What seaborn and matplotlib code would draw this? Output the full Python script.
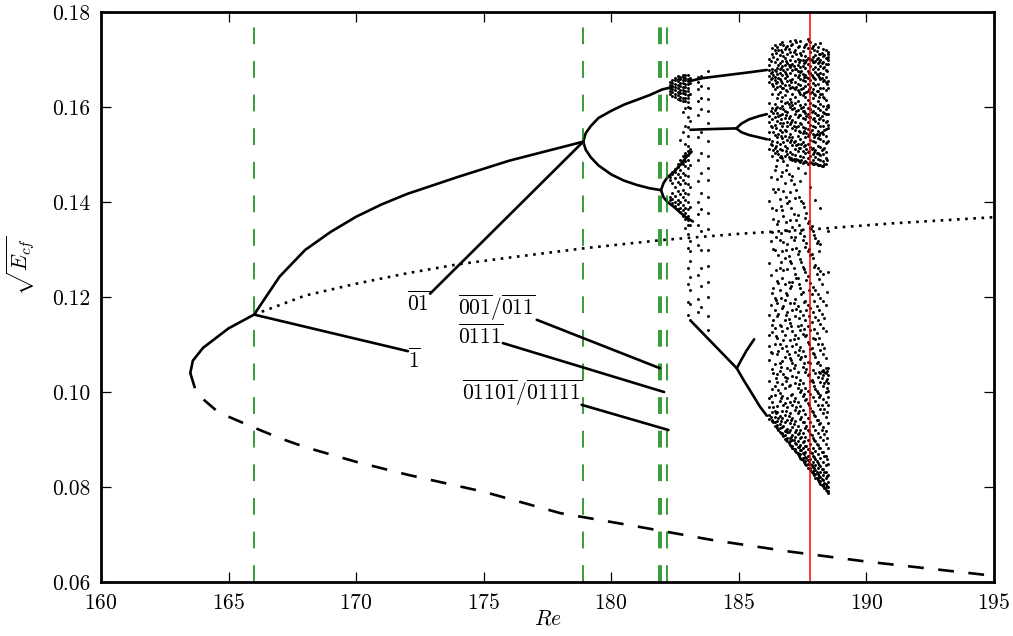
import numpy as np
import pandas as pd
import matplotlib
matplotlib.use("Agg")
import matplotlib.pyplot as plt
import seaborn as sns

# ---- branches ----------------------------------------------------------
# saddle-node: stable upper part and unstable (dashed) lower part
upper_re = [163.5, 163.6, 164.0, 165.0, 166.0]
upper_y = [0.1040, 0.1066, 0.1093, 0.1134, 0.1163]

lower_re = [163.5, 163.7, 164.0, 164.5, 165.0, 166.0, 167.0, 168.0, 170.0,
            172.0, 175.0, 178.0, 181.0, 184.0, 187.0, 190.0, 193.0, 195.0]
lower_y = [0.1040, 0.1005, 0.0985, 0.0962, 0.0948, 0.0925, 0.0903, 0.0884, 0.0853,
           0.0826, 0.0790, 0.0745, 0.0717, 0.0688, 0.0664, 0.0643, 0.0625, 0.0613]

# unstable period-1 orbit after 166 (dotted)
dot_re = [166.0, 168.0, 170.0, 172.0, 174.0, 176.0, 179.0, 182.0, 185.0, 188.0, 191.0, 195.0]
dot_y = [0.1163, 0.1203, 0.1228, 0.1250, 0.1269, 0.1283, 0.1303, 0.1320, 0.1333, 0.1343, 0.1355, 0.1368]

# stable branch 166 -> 179
p1_re = [166.0, 167.0, 168.0, 169.0, 170.0, 171.0, 172.0, 174.0, 176.0, 178.9]
p1_y = [0.1163, 0.1243, 0.1299, 0.1337, 0.1369, 0.1395, 0.1417, 0.1453, 0.1487, 0.1527]

# period doubling at 179
p2_top_re = [178.9, 179.0, 179.2, 179.5, 180.0, 180.5, 181.0, 181.5, 182.0, 182.4]
p2_top_y = [0.1527, 0.1545, 0.1560, 0.1577, 0.1592, 0.1605, 0.1615, 0.1625, 0.1637, 0.1642]
p2_bot_re = [178.9, 179.0, 179.2, 179.5, 180.0, 180.5, 181.0, 181.5, 181.95]
p2_bot_y = [0.1527, 0.1510, 0.1494, 0.1477, 0.1458, 0.1445, 0.1436, 0.1429, 0.1425]

p4_up_re = [181.95, 182.05, 182.2, 182.45, 182.7, 182.95, 183.15]
p4_up_y = [0.1425, 0.1440, 0.1452, 0.1463, 0.1478, 0.1495, 0.1506]
p4_dn_re = [181.95, 182.05, 182.2, 182.45, 182.7, 182.95, 183.2]
p4_dn_y = [0.1425, 0.1410, 0.1400, 0.1390, 0.1378, 0.1367, 0.1359]

# period-3 window
p3_top_re = [183.1, 183.6, 184.2, 184.8, 185.4, 186.1]
p3_top_y = [0.1655, 0.1661, 0.1665, 0.1669, 0.1673, 0.1678]
p3_mid_re = [183.1, 183.6, 184.2, 184.9]
p3_mid_y = [0.1552, 0.1553, 0.1554, 0.1555]
p6_mid_up_re = [184.9, 185.1, 185.4, 185.8, 186.1]
p6_mid_up_y = [0.1555, 0.1565, 0.1574, 0.1581, 0.1585]
p6_mid_dn_re = [184.9, 185.1, 185.4, 185.8, 186.1]
p6_mid_dn_y = [0.1555, 0.1547, 0.1541, 0.1536, 0.1532]
p3_bot_re = [183.15, 184.0, 184.92]
p3_bot_y = [0.1148, 0.1101, 0.1050]
p6_bot_up_re = [184.92, 185.1, 185.3, 185.6]
p6_bot_up_y = [0.1050, 0.1068, 0.1087, 0.1111]
p6_bot_dn_re = [184.92, 185.2, 185.5, 185.83, 186.1]
p6_bot_dn_y = [0.1050, 0.1024, 0.0998, 0.0969, 0.0950]

# chaotic points, Re -> maxima
chaos_first = {
    182.3: [0.1628, 0.1634, 0.1641, 0.1647, 0.1652, 0.1404, 0.1411, 0.1446, 0.1453],
    182.4: [0.1624, 0.1631, 0.1638, 0.1644, 0.1651, 0.1657, 0.1398, 0.1407, 0.1419, 0.1441, 0.1458, 0.1464],
    182.5: [0.1621, 0.1627, 0.1635, 0.1642, 0.1648, 0.1656, 0.1662, 0.1392, 0.1401, 0.1413, 0.1431,
            0.1451, 0.1463, 0.1470],
    182.6: [0.1616, 0.1625, 0.1631, 0.1640, 0.1646, 0.1654, 0.1659, 0.1666, 0.1385, 0.1396, 0.1405,
            0.1424, 0.1442, 0.1458, 0.1473, 0.1479],
    182.7: [0.1614, 0.1621, 0.1630, 0.1636, 0.1645, 0.1650, 0.1658, 0.1664, 0.1379, 0.1387, 0.1401,
            0.1416, 0.1437, 0.1452, 0.1467, 0.1481, 0.1488, 0.1530],
    182.8: [0.1612, 0.1619, 0.1629, 0.1635, 0.1643, 0.1651, 0.1656, 0.1663, 0.1668, 0.1371, 0.1383,
            0.1393, 0.1411, 0.1426, 0.1447, 0.1461, 0.1479, 0.1487, 0.1496, 0.1548, 0.1590],
    182.9: [0.1613, 0.1618, 0.1627, 0.1634, 0.1642, 0.1648, 0.1657, 0.1662, 0.1667, 0.1346, 0.1365,
            0.1377, 0.1388, 0.1405, 0.1420, 0.1440, 0.1456, 0.1475, 0.1487, 0.1498, 0.1504, 0.1523,
            0.1561, 0.1598],
    183.0: [0.1611, 0.1619, 0.1626, 0.1633, 0.1641, 0.1649, 0.1655, 0.1660, 0.1667, 0.1332, 0.1351,
            0.1363, 0.1371, 0.1386, 0.1401, 0.1417, 0.1437, 0.1454, 0.1472, 0.1488, 0.1499, 0.1507,
            0.1517, 0.1538, 0.1557, 0.1579, 0.1601, 0.1304, 0.1262, 0.1228, 0.1190, 0.1163],
    183.1: [0.1662, 0.1650, 0.1627, 0.1598, 0.1571, 0.1512, 0.1478, 0.1431, 0.1390, 0.1352, 0.1318,
            0.1297, 0.1276, 0.1243, 0.1214, 0.1186, 0.1152],
    183.4: [0.1664, 0.1652, 0.1638, 0.1612, 0.1584, 0.1536, 0.1489, 0.1445, 0.1401, 0.1375, 0.1352,
            0.1310, 0.1247, 0.1196, 0.1168],
    183.5: [0.1666, 0.1645, 0.1620, 0.1595, 0.1548, 0.1503, 0.1462, 0.1418, 0.1386, 0.1340, 0.1298,
            0.1262, 0.1223, 0.1180],
    183.8: [0.1676, 0.1641, 0.1617, 0.1592, 0.1566, 0.1529, 0.1497, 0.1472, 0.1446, 0.1410, 0.1376,
            0.1344, 0.1298, 0.1265, 0.1231, 0.1200, 0.1161, 0.1131],
}

chaos_last = {
    186.2: [0.0943, 0.0951, 0.0969, 0.0987, 0.1024, 0.1068, 0.1096, 0.1119, 0.1163, 0.1271, 0.1402,
            0.1511, 0.1533, 0.1548, 0.1569, 0.1582, 0.1609, 0.1652, 0.1666, 0.1677, 0.1688, 0.1702],
    186.3: [0.0938, 0.0942, 0.0958, 0.0979, 0.1007, 0.1049, 0.1083, 0.1127, 0.1142, 0.1208, 0.1336,
            0.1387, 0.1497, 0.1519, 0.1529, 0.1557, 0.1574, 0.1598, 0.1627, 0.1649, 0.1661, 0.1673,
            0.1680, 0.1711, 0.1724],
    186.4: [0.0929, 0.0936, 0.0947, 0.0961, 0.0994, 0.1013, 0.1058, 0.1101, 0.1134, 0.1172, 0.1197,
            0.1298, 0.1421, 0.1468, 0.1503, 0.1514, 0.1541, 0.1563, 0.1579, 0.1594, 0.1606, 0.1638,
            0.1657, 0.1664, 0.1678, 0.1694, 0.1719, 0.1731],
    186.5: [0.0924, 0.0931, 0.0940, 0.0957, 0.0971, 0.1022, 0.1037, 0.1079, 0.1113, 0.1159, 0.1188,
            0.1233, 0.1354, 0.1449, 0.1489, 0.1507, 0.1526, 0.1536, 0.1571, 0.1588, 0.1601, 0.1619,
            0.1643, 0.1653, 0.1669, 0.1683, 0.1701, 0.1727],
    186.6: [0.0916, 0.0924, 0.0933, 0.0949, 0.0982, 0.0998, 0.1044, 0.1061, 0.1102, 0.1141, 0.1215,
            0.1262, 0.1319, 0.1406, 0.1494, 0.1512, 0.1523, 0.1551, 0.1566, 0.1583, 0.1597, 0.1631,
            0.1645, 0.1659, 0.1672, 0.1679, 0.1692, 0.1709, 0.1733],
    186.7: [0.0911, 0.0913, 0.0926, 0.0945, 0.0959, 0.0991, 0.1017, 0.1066, 0.1093, 0.1128, 0.1177,
            0.1241, 0.1297, 0.1383, 0.1463, 0.1492, 0.1509, 0.1534, 0.1547, 0.1559, 0.1586, 0.1603,
            0.1622, 0.1639, 0.1651, 0.1668, 0.1686, 0.1697, 0.1715, 0.1737],
    186.8: [0.0902, 0.0909, 0.0918, 0.0937, 0.0952, 0.0976, 0.1008, 0.1032, 0.1074, 0.1119, 0.1152,
            0.1193, 0.1227, 0.1283, 0.1342, 0.1439, 0.1496, 0.1517, 0.1538, 0.1552, 0.1577, 0.1592,
            0.1608, 0.1625, 0.1647, 0.1662, 0.1674, 0.1689, 0.1704, 0.1722],
    186.9: [0.0897, 0.0903, 0.0915, 0.0922, 0.0941, 0.0968, 0.0987, 0.1029, 0.1051, 0.1087, 0.1134,
            0.1168, 0.1204, 0.1258, 0.1311, 0.1397, 0.1477, 0.1501, 0.1513, 0.1531, 0.1559, 0.1568,
            0.1589, 0.1611, 0.1633, 0.1654, 0.1665, 0.1681, 0.1693, 0.1712, 0.1729],
    187.0: [0.0888, 0.0897, 0.0903, 0.0919, 0.0934, 0.0955, 0.0979, 0.1014, 0.1046, 0.1071, 0.1109,
            0.1146, 0.1187, 0.1219, 0.1276, 0.1363, 0.1421, 0.1491, 0.1506, 0.1527, 0.1543, 0.1564,
            0.1581, 0.1599, 0.1617, 0.1641, 0.1657, 0.1671, 0.1684, 0.1698, 0.1716, 0.1738],
    187.1: [0.0883, 0.0886, 0.0898, 0.0909, 0.0927, 0.0946, 0.0973, 0.0995, 0.1034, 0.1062, 0.1097,
            0.1128, 0.1173, 0.1232, 0.1302, 0.1348, 0.1455, 0.1488, 0.1502, 0.1519, 0.1536, 0.1555,
            0.1573, 0.1596, 0.1604, 0.1628, 0.1643, 0.1660, 0.1677, 0.1691, 0.1707, 0.1733],
    187.2: [0.0875, 0.0881, 0.0892, 0.0906, 0.0915, 0.0939, 0.0962, 0.0988, 0.1019, 0.1057, 0.1084,
            0.1121, 0.1159, 0.1196, 0.1249, 0.1327, 0.1408, 0.1486, 0.1498, 0.1511, 0.1529, 0.1552,
            0.1568, 0.1586, 0.1609, 0.1622, 0.1638, 0.1652, 0.1668, 0.1681, 0.1696, 0.1721, 0.1742],
    187.3: [0.0870, 0.0872, 0.0885, 0.0896, 0.0911, 0.0928, 0.0955, 0.0979, 0.1008, 0.1043, 0.1078,
            0.1114, 0.1138, 0.1182, 0.1239, 0.1290, 0.1373, 0.1472, 0.1489, 0.1508, 0.1522, 0.1539,
            0.1561, 0.1579, 0.1593, 0.1612, 0.1636, 0.1649, 0.1663, 0.1676, 0.1689, 0.1702, 0.1727],
    187.4: [0.0861, 0.0869, 0.0877, 0.0889, 0.0903, 0.0921, 0.0944, 0.0971, 0.1001, 0.1026, 0.1069,
            0.1095, 0.1131, 0.1171, 0.1219, 0.1281, 0.1334, 0.1444, 0.1485, 0.1497, 0.1514, 0.1533,
            0.1548, 0.1566, 0.1583, 0.1604, 0.1627, 0.1646, 0.1659, 0.1673, 0.1685, 0.1699, 0.1713,
            0.1739],
    187.5: [0.0856, 0.0861, 0.0871, 0.0882, 0.0894, 0.0914, 0.0937, 0.0963, 0.0992, 0.1018, 0.1052,
            0.1087, 0.1122, 0.1163, 0.1211, 0.1264, 0.1319, 0.1398, 0.1483, 0.1494, 0.1507, 0.1526,
            0.1546, 0.1558, 0.1577, 0.1591, 0.1601, 0.1626, 0.1639, 0.1657, 0.1670, 0.1687, 0.1700,
            0.1718],
    187.6: [0.0849, 0.0854, 0.0863, 0.0874, 0.0887, 0.0906, 0.0925, 0.0954, 0.0983, 0.1009, 0.1043,
            0.1076, 0.1117, 0.1151, 0.1192, 0.1253, 0.1306, 0.1367, 0.1462, 0.1486, 0.1503, 0.1519,
            0.1537, 0.1555, 0.1574, 0.1588, 0.1606, 0.1621, 0.1644, 0.1654, 0.1668, 0.1683, 0.1695,
            0.1708, 0.1731],
    187.7: [0.0841, 0.0848, 0.0856, 0.0866, 0.0879, 0.0899, 0.0919, 0.0945, 0.0976, 0.1003, 0.1035,
            0.1064, 0.1106, 0.1139, 0.1183, 0.1244, 0.1297, 0.1355, 0.1481, 0.1492, 0.1505, 0.1523,
            0.1539, 0.1553, 0.1569, 0.1585, 0.1597, 0.1615, 0.1633, 0.1648, 0.1661, 0.1676, 0.1690,
            0.1704, 0.1724, 0.1744],
    187.8: [0.0836, 0.0839, 0.0849, 0.0859, 0.0873, 0.0891, 0.0911, 0.0937, 0.0967, 0.0996, 0.1024,
            0.1061, 0.1091, 0.1131, 0.1176, 0.1229, 0.1288, 0.1345, 0.1431, 0.1484, 0.1497, 0.1516,
            0.1531, 0.1547, 0.1563, 0.1578, 0.1595, 0.1608, 0.1629, 0.1642, 0.1656, 0.1672, 0.1687,
            0.1701, 0.1715, 0.1736],
    187.9: [0.0829, 0.0834, 0.0842, 0.0853, 0.0866, 0.0883, 0.0904, 0.0929, 0.0958, 0.0989, 0.1021,
            0.1047, 0.1082, 0.1114, 0.1168, 0.1221, 0.1283, 0.1339, 0.1479, 0.1489, 0.1502, 0.1514,
            0.1529, 0.1544, 0.1561, 0.1574, 0.1591, 0.1605, 0.1619, 0.1637, 0.1651, 0.1664, 0.1679,
            0.1694, 0.1706, 0.1729],
    188.0: [0.0820, 0.0827, 0.0835, 0.0846, 0.0858, 0.0876, 0.0897, 0.0921, 0.0949, 0.0981, 0.1006,
            0.1039, 0.1073, 0.1111, 0.1158, 0.1214, 0.1268, 0.1325, 0.1404, 0.1482, 0.1494, 0.1509,
            0.1527, 0.1541, 0.1557, 0.1571, 0.1587, 0.1602, 0.1625, 0.1646, 0.1660, 0.1674, 0.1685,
            0.1697, 0.1709, 0.1732],
    188.1: [0.0815, 0.0818, 0.0828, 0.0839, 0.0851, 0.0869, 0.0889, 0.0913, 0.0942, 0.0972, 0.0998,
            0.1031, 0.1064, 0.1102, 0.1151, 0.1206, 0.1261, 0.1317, 0.1477, 0.1491, 0.1504, 0.1518,
            0.1535, 0.1549, 0.1566, 0.1583, 0.1598, 0.1612, 0.1633, 0.1649, 0.1667, 0.1681, 0.1693,
            0.1704, 0.1727],
    188.2: [0.0807, 0.0813, 0.0821, 0.0832, 0.0845, 0.0861, 0.0882, 0.0906, 0.0934, 0.0964, 0.0993,
            0.1022, 0.1041, 0.1056, 0.1089, 0.1143, 0.1198, 0.1255, 0.1311, 0.1387, 0.1478, 0.1488,
            0.1499, 0.1515, 0.1532, 0.1546, 0.1561, 0.1577, 0.1593, 0.1607, 0.1628, 0.1641, 0.1658,
            0.1672, 0.1686, 0.1698, 0.1711, 0.1734],
    188.3: [0.0802, 0.0805, 0.0814, 0.0825, 0.0838, 0.0853, 0.0874, 0.0898, 0.0926, 0.0955, 0.0986,
            0.1012, 0.1036, 0.1047, 0.1079, 0.1134, 0.1192, 0.1248, 0.1476, 0.1486, 0.1501, 0.1512,
            0.1529, 0.1543, 0.1559, 0.1572, 0.1589, 0.1603, 0.1621, 0.1639, 0.1655, 0.1669, 0.1683,
            0.1695, 0.1708, 0.1723],
    188.4: [0.0793, 0.0800, 0.0807, 0.0818, 0.0831, 0.0846, 0.0866, 0.0890, 0.0918, 0.0947, 0.0978,
            0.0999, 0.1023, 0.1039, 0.1051, 0.1072, 0.1128, 0.1184, 0.1481, 0.1493, 0.1506, 0.1524,
            0.1538, 0.1554, 0.1568, 0.1585, 0.1596, 0.1615, 0.1636, 0.1652, 0.1664, 0.1678, 0.1691,
            0.1703, 0.1719],
    188.5: [0.0787, 0.0792, 0.0799, 0.0810, 0.0826, 0.0848, 0.0882, 0.0935, 0.0972, 0.0990, 0.1003,
            0.1018, 0.1035, 0.1050, 0.1253, 0.1340, 0.1528, 0.1556, 0.1562, 0.1585, 0.1600, 0.1605,
            0.1640, 0.1655, 0.1690, 0.1700, 0.1706, 0.1712, 0.1716],
}

# in-between Re samples of the last chaotic window
chaos_half = {
    186.25: [0.0947, 0.0992, 0.1085, 0.1184, 0.1247, 0.1318, 0.1452, 0.1522, 0.1561, 0.1591, 0.1659,
             0.1671, 0.1696],
    186.35: [0.0936, 0.0968, 0.1041, 0.1152, 0.1219, 0.1301, 0.1365, 0.1428, 0.1509, 0.1547, 0.1587,
             0.1644, 0.1668, 0.1706],
    186.45: [0.0928, 0.0955, 0.1029, 0.1117, 0.1193, 0.1256, 0.1327, 0.1384, 0.1476, 0.1518, 0.1556,
             0.1598, 0.1651, 0.1676, 0.1713],
    186.55: [0.0921, 0.0946, 0.1004, 0.1086, 0.1164, 0.1229, 0.1288, 0.1361, 0.1427, 0.1501, 0.1544,
             0.1582, 0.1627, 0.1662, 0.1688, 0.1721],
    186.65: [0.0914, 0.0939, 0.0987, 0.1052, 0.1138, 0.1197, 0.1273, 0.1334, 0.1392, 0.1455, 0.1497,
             0.1539, 0.1574, 0.1613, 0.1654, 0.1683, 0.1719],
    186.75: [0.0907, 0.0929, 0.0972, 0.1038, 0.1109, 0.1181, 0.1256, 0.1315, 0.1371, 0.1424, 0.1487,
             0.1527, 0.1566, 0.1596, 0.1641, 0.1677, 0.1708, 0.1731],
    186.85: [0.0900, 0.0921, 0.0961, 0.1023, 0.1097, 0.1163, 0.1209, 0.1299, 0.1358, 0.1411, 0.1468,
             0.1508, 0.1549, 0.1583, 0.1635, 0.1669, 0.1697, 0.1727],
    186.95: [0.0893, 0.0915, 0.0949, 0.1012, 0.1081, 0.1154, 0.1231, 0.1286, 0.1339, 0.1402, 0.1459,
             0.1495, 0.1536, 0.1576, 0.1606, 0.1646, 0.1688, 0.1722],
    187.05: [0.0886, 0.0906, 0.0942, 0.0993, 0.1067, 0.1139, 0.1223, 0.1271, 0.1326, 0.1388, 0.1446,
             0.1493, 0.1531, 0.1569, 0.1611, 0.1652, 0.1689, 0.1730],
    187.15: [0.0879, 0.0899, 0.0932, 0.0981, 0.1051, 0.1112, 0.1188, 0.1262, 0.1319, 0.1374, 0.1437,
             0.1491, 0.1526, 0.1561, 0.1598, 0.1639, 0.1686, 0.1716],
    187.25: [0.0873, 0.0891, 0.0921, 0.0968, 0.1032, 0.1101, 0.1174, 0.1241, 0.1304, 0.1363, 0.1426,
             0.1490, 0.1519, 0.1557, 0.1592, 0.1643, 0.1679, 0.1712, 0.1736],
    187.35: [0.0866, 0.0884, 0.0913, 0.0959, 0.1016, 0.1088, 0.1155, 0.1227, 0.1296, 0.1351, 0.1411,
             0.1487, 0.1513, 0.1550, 0.1584, 0.1631, 0.1667, 0.1695, 0.1729],
    187.45: [0.0859, 0.0877, 0.0905, 0.0948, 0.1004, 0.1073, 0.1142, 0.1207, 0.1274, 0.1342, 0.1402,
             0.1489, 0.1522, 0.1564, 0.1597, 0.1638, 0.1675, 0.1709],
    187.55: [0.0852, 0.0869, 0.0896, 0.0937, 0.0996, 0.1061, 0.1133, 0.1189, 0.1258, 0.1329, 0.1389,
             0.1484, 0.1517, 0.1549, 0.1591, 0.1629, 0.1663, 0.1692, 0.1726],
    187.65: [0.0846, 0.0861, 0.0887, 0.0928, 0.0985, 0.1049, 0.1119, 0.1172, 0.1236, 0.1313, 0.1377,
             0.1485, 0.1511, 0.1546, 0.1581, 0.1632, 0.1664, 0.1699, 0.1733],
    187.75: [0.0839, 0.0854, 0.0879, 0.0918, 0.0973, 0.1038, 0.1101, 0.1159, 0.1215, 0.1302, 0.1361,
             0.1482, 0.1508, 0.1544, 0.1579, 0.1637, 0.1671, 0.1702, 0.1739],
    187.85: [0.0832, 0.0846, 0.0871, 0.0909, 0.0961, 0.1026, 0.1093, 0.1148, 0.1207, 0.1291, 0.1349,
             0.1483, 0.1512, 0.1551, 0.1589, 0.1631, 0.1668, 0.1698, 0.1725],
    187.95: [0.0825, 0.0839, 0.0863, 0.0899, 0.0951, 0.1013, 0.1079, 0.1133, 0.1192, 0.1264, 0.1330,
             0.1481, 0.1506, 0.1537, 0.1576, 0.1628, 0.1662, 0.1695, 0.1721],
    188.05: [0.0818, 0.0831, 0.0854, 0.0891, 0.0941, 0.1003, 0.1061, 0.1124, 0.1181, 0.1249, 0.1313,
             0.1479, 0.1503, 0.1543, 0.1584, 0.1633, 0.1669, 0.1701, 0.1718],
    188.15: [0.0811, 0.0823, 0.0846, 0.0883, 0.0932, 0.0989, 0.1043, 0.1113, 0.1172, 0.1237, 0.1297,
             0.1477, 0.1501, 0.1541, 0.1574, 0.1621, 0.1663, 0.1694, 0.1712],
    188.25: [0.0804, 0.0817, 0.0838, 0.0874, 0.0921, 0.0972, 0.1029, 0.1044, 0.1101, 0.1165, 0.1228,
             0.1476, 0.1509, 0.1547, 0.1582, 0.1627, 0.1661, 0.1692, 0.1713],
    188.35: [0.0797, 0.0809, 0.0831, 0.0865, 0.0911, 0.0965, 0.1019, 0.1043, 0.1093, 0.1155, 0.1479,
             0.1514, 0.1552, 0.1587, 0.1619, 0.1657, 0.1684, 0.1709],
    188.45: [0.0791, 0.0803, 0.0823, 0.0859, 0.0903, 0.0957, 0.1009, 0.1027, 0.1045, 0.1211, 0.1488,
             0.1527, 0.1571, 0.1603, 0.1648, 0.1676, 0.1704],
}

# marked Reynolds numbers
green_re = [166.0, 178.9, 181.88, 181.95, 182.18]
red_re = 187.8

# orbit labels: text, leader-line start, leader-line target, text anchor
labels = [r"$\overline{1}$", r"$\overline{01}$", r"$\overline{001}/\overline{011}$",
          r"$\overline{0111}$", r"$\overline{01101}/\overline{01111}$"]
label_xy = [(172.03, 0.1086), (172.9, 0.1207), (177.08, 0.1152),
            (175.75, 0.1103), (178.84, 0.0973)]
label_target = [(166.0, 0.1163), (178.9, 0.1527), (181.91, 0.1050),
                (182.07, 0.1000), (182.24, 0.0920)]
label_text_pos = [(172.03, 0.1051, "left"), (172.91, 0.1171, "right"),
                  (177.01, 0.1162, "right"), (175.76, 0.1101, "right"),
                  (178.86, 0.0983, "right")]

# ---- plotting ----------------------------------------------------------
sns.set_style("ticks", {"axes.edgecolor": "black", "xtick.color": "black",
                        "ytick.color": "black", "text.color": "black",
                        "axes.labelcolor": "black"})
plt.rcParams["font.family"] = "serif"
plt.rcParams["font.serif"] = ["cmr10", "DejaVu Serif"]
plt.rcParams["mathtext.fontset"] = "cm"
plt.rcParams["axes.formatter.use_mathtext"] = True

fig = plt.figure(figsize=(10.13, 6.36), dpi=100)
ax = fig.add_axes([0.0997, 0.0849, 0.8815, 0.8962])

lw = 1.9
sns.lineplot(x=upper_re, y=upper_y, color="k", lw=lw, sort=False, estimator=None, ax=ax)
sns.lineplot(x=lower_re, y=lower_y, color="k", lw=lw, sort=False, estimator=None,
             linestyle=(0, (6, 5.5)), ax=ax)
sns.lineplot(x=dot_re, y=dot_y, color="k", lw=lw, sort=False, estimator=None,
             linestyle=(0, (1, 2.1)), ax=ax)

branches = [(p1_re, p1_y), (p2_top_re, p2_top_y), (p2_bot_re, p2_bot_y),
            (p4_up_re, p4_up_y), (p4_dn_re, p4_dn_y),
            (p3_top_re, p3_top_y), (p3_mid_re, p3_mid_y),
            (p6_mid_up_re, p6_mid_up_y), (p6_mid_dn_re, p6_mid_dn_y),
            (p3_bot_re, p3_bot_y), (p6_bot_up_re, p6_bot_up_y), (p6_bot_dn_re, p6_bot_dn_y)]
for bx, by in branches:
    sns.lineplot(x=bx, y=by, color="k", lw=lw, sort=False, estimator=None, ax=ax)

rows = []
for cols in (chaos_first, chaos_last, chaos_half):
    for re_val, ys in cols.items():
        for yv in ys:
            rows.append((re_val, yv))
cloud = pd.DataFrame(rows, columns=["Re", "E"])
sns.scatterplot(data=cloud, x="Re", y="E", color="k", s=4.5, linewidth=0, ax=ax)

for g in green_re:
    ax.axvline(g, color="#008000", lw=1.1, linestyle=(0, (11, 11)))
ax.axvline(red_re, color="red", lw=1.1)

for txt, start, tgt, (tx, ty, ha) in zip(labels, label_xy, label_target, label_text_pos):
    ax.plot([start[0], tgt[0]], [start[1], tgt[1]], color="k", lw=lw)
    ax.text(tx, ty, txt, ha=ha, va="baseline", fontsize=15.5)

ax.set_xlim(160, 195)
ax.set_ylim(0.06, 0.18)
ax.set_xticks(np.arange(160, 196, 5))
ax.set_yticks(np.arange(0.06, 0.181, 0.02))
ax.yaxis.set_major_formatter(matplotlib.ticker.FormatStrFormatter("%.2f"))
ax.tick_params(direction="in", top=True, right=True, length=7, width=0.9,
               labelsize=15.5, pad=8)
for sp in ax.spines.values():
    sp.set_linewidth(2)

ax.set_xlabel(r"$Re$", fontsize=15.5)
ax.xaxis.set_label_coords(0.5, -0.047)
ax.set_ylabel(r"$\sqrt{E_{cf}}$", fontsize=15.5)
ax.yaxis.set_label_coords(-0.072, 0.555)

fig.savefig("out.png", dpi=100)
